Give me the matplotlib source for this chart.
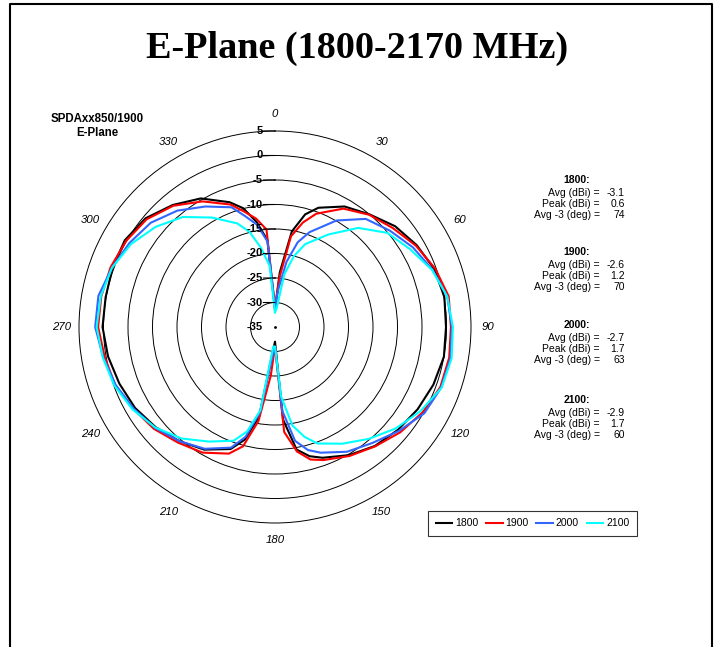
import numpy as np
import matplotlib
matplotlib.use("Agg")
import matplotlib.pyplot as plt
from matplotlib.lines import Line2D

plt.rcParams['font.family'] = ['Liberation Sans', 'DejaVu Sans']

# Angles (deg) of the measured points
angles = [0, 5, 10, 15, 20, 30, 40, 50, 60, 70, 80, 90, 100, 110, 120, 130, 140,
          150, 160, 165, 170, 175, 180, 185, 190, 195, 200, 210, 220, 230, 240,
          250, 260, 270, 280, 290, 300, 310, 320, 330, 340, 345, 350, 355, 360]

# Gain (dBi) per band
g1800 = [-31.5, -23.8, -15.2, -11.2, -9.1, -6.6, -5.0, -3.0, -1.6, -0.4, 0.1, -0.1,
         0.0, -0.6, -1.4, -2.3, -3.3, -4.8, -6.6, -7.7, -9.6, -16.0, -32.0, -30.0,
         -16.5, -11.2, -8.5, -6.1, -4.6, -3.2, -2.0, -1.2, -0.4, 0.2, 0.1, 0.3, 0.4,
         -0.5, -2.5, -4.7, -7.9, -9.9, -13.2, -17.2, -31.5]
g1900 = [-31.0, -25.0, -16.2, -12.9, -10.4, -7.1, -5.1, -3.6, -1.8, -0.2, 1.0, 0.9,
         1.1, 0.9, -0.2, -1.6, -3.2, -4.6, -6.1, -7.0, -9.2, -13.5, -31.0, -25.0,
         -15.5, -9.8, -7.5, -5.4, -4.2, -2.7, -1.6, -0.3, 0.3, 1.1, 1.0, 0.7, 0.1,
         -0.8, -2.7, -5.4, -8.4, -10.6, -12.5, -15.0, -31.0]
g2000 = [-31.0, -27.3, -21.5, -17.1, -14.4, -9.9, -6.2, -4.4, -2.5, -0.8, 0.7, 1.1,
         1.4, 1.1, 0.2, -2.0, -4.1, -5.6, -7.7, -9.0, -11.4, -17.8, -31.0, -29.0,
         -17.3, -11.8, -8.8, -6.3, -4.6, -3.0, -1.7, -0.4, 0.6, 1.7, 1.6, 0.4, -0.7,
         -1.9, -4.0, -6.6, -9.0, -11.6, -13.8, -17.5, -31.0]
g2100 = [-32.0, -31.2, -24.1, -20.0, -17.0, -13.2, -8.6, -5.1, -3.2, -0.9, 0.7, 1.3,
         1.6, 1.2, -0.7, -2.8, -5.2, -7.5, -9.7, -11.8, -14.6, -20.8, -31.0, -31.0,
         -17.7, -12.9, -10.3, -8.0, -5.3, -3.1, -1.4, -0.1, 0.7, 1.4, 1.1, 0.4, -1.1,
         -3.2, -5.7, -9.2, -12.5, -14.9, -18.6, -22.5, -32.0]

bands = ['1800', '1900', '2000', '2100']
colors = ['#000000', '#FF0000', '#3366FF', '#00FFFF']

# Summary numbers shown to the right
avg_dbi = ['-3.1', '-2.6', '-2.7', '-2.9']
peak_dbi = ['0.6', '1.2', '1.7', '1.7']
avg3_deg = ['74', '70', '63', '60']

ring_values = list(range(-35, 10, 5))
angle_ticks = list(range(0, 360, 30))

W, H = 715, 647
fig = plt.figure(figsize=(W / 100, H / 100), dpi=100)

# polar plot: centre (275, 327) px, outer ring radius 196 px
cx, cy, rad = 275, 327, 196
ax = fig.add_axes([(cx - rad) / W, 1 - (cy + rad) / H, 2 * rad / W, 2 * rad / H],
                  projection='polar')
ax.set_theta_zero_location('N')
ax.set_theta_direction(-1)
ax.set_ylim(-35, 5)
ax.set_yticks(ring_values[1:-1])
ax.set_yticklabels([])
ax.yaxis.grid(True, color='black', lw=0.7)
ax.xaxis.grid(False)
ax.spines['polar'].set_linewidth(0.7)
ax.set_xticks(np.deg2rad(angle_ticks))
ax.set_xticklabels([str(a) for a in angle_ticks], fontstyle='italic', fontsize=8.2)
ax.tick_params(axis='x', pad=5.5, length=0)
ax.tick_params(axis='y', length=0)

th = np.deg2rad(angles)
lines = []
for g, c, b in zip([g1800, g1900, g2000, g2100], colors, bands):
    ln, = ax.plot(th, g, color=c, lw=1.5, label=b)
    lines.append(ln)

ax.plot(0, -35, 'k.', ms=2)

# radial scale labels along the 0 deg axis
for v in ring_values:
    ax.annotate(str(v), xy=(0, v), xytext=(-9, 0), textcoords='offset points',
                ha='right', va='center', fontsize=8, fontweight='bold')
    if v > -35:
        ax.annotate('', xy=(0, v), xytext=(-8.5, 0), textcoords='offset points',
                    arrowprops=dict(arrowstyle='-', lw=0.8, color='black',
                                    shrinkA=0, shrinkB=0))

fig.text(357 / W, 1 - 58 / H, 'E-Plane (1800-2170 MHz)', ha='center', va='baseline',
         fontsize=27.5, fontweight='bold', family='Liberation Serif')
fig.text(97 / W, 1 - 119 / H, 'SPDAxx850/1900', ha='center', va='center',
         fontsize=8.3, fontweight='bold')
fig.text(97 / W, 1 - 133 / H, 'E-Plane', ha='center', va='center',
         fontsize=8.3, fontweight='bold')

block_y = [180, 252, 325, 400]
for i, b in enumerate(bands):
    y0 = block_y[i]
    fig.text(590 / W, 1 - y0 / H, b + ':', ha='right', va='center',
             fontsize=7.5, fontweight='bold')
    rows = [('Avg (dBi) =', avg_dbi[i]), ('Peak (dBi) =', peak_dbi[i]),
            ('Avg -3 (deg) =', avg3_deg[i])]
    for j, (lab, val) in enumerate(rows):
        yy = y0 + 13 + 11 * j
        fig.text(600 / W, 1 - yy / H, lab, ha='right', va='center', fontsize=7.5)
        fig.text(625 / W, 1 - yy / H, val, ha='right', va='center', fontsize=7.5)

leg = fig.legend(handles=lines, ncol=4, loc='center',
                 bbox_to_anchor=(532.5 / W, 1 - 523.5 / H), frameon=True,
                 fancybox=False, edgecolor='black', fontsize=7.5, handlelength=1.6,
                 handletextpad=0.25, columnspacing=0.75, borderpad=0.75,
                 borderaxespad=0)
leg.get_frame().set_linewidth(0.8)

# page frame (left, top, right)
fx0, fx1, fy = 9.5 / W, 711.5 / W, 1 - 4 / H
fig.add_artist(Line2D([fx0, fx0, fx1, fx1], [0, fy, fy, 0], color='black', lw=1.5,
                      transform=fig.transFigure))

fig.savefig('out.png', dpi=100)
